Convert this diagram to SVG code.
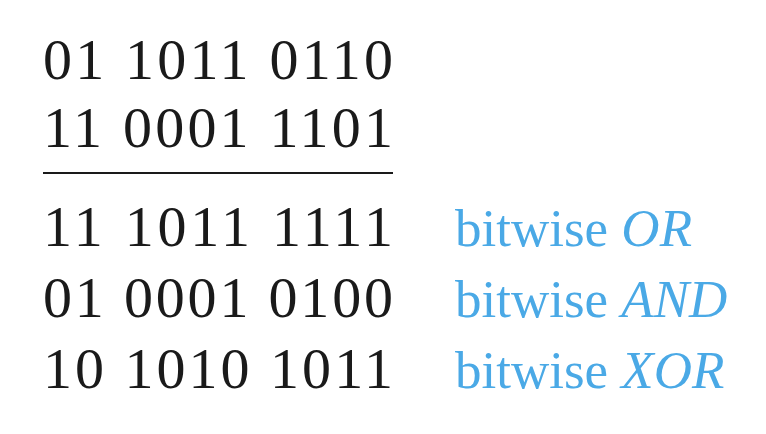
<svg xmlns="http://www.w3.org/2000/svg" width="766" height="434" viewBox="0 0 766 434">
<style>
.d{font-family:"Liberation Serif","Times New Roman",serif;font-size:58px;fill:#1a1a1a}
.b{font-family:"Liberation Serif","Times New Roman",serif;font-size:53px;fill:#4aa9e6}
</style>
<rect width="766" height="434" fill="#ffffff"/>
<g id="operands">
<text class="d" x="43" y="79" textLength="350" lengthAdjust="spacing">01 1011 0110</text>
<text class="d" x="43" y="147" textLength="350" lengthAdjust="spacing">11 0001 1101</text>
</g>
<line x1="43" y1="173" x2="393" y2="173" stroke="#1a1a1a" stroke-width="2"/>
<g id="results">
<text class="d" x="43" y="246" textLength="350" lengthAdjust="spacing">11 1011 1111</text>
<text class="d" x="43" y="317" textLength="350" lengthAdjust="spacing">01 0001 0100</text>
<text class="d" x="43" y="388" textLength="350" lengthAdjust="spacing">10 1010 1011</text>
</g>
<g id="labels">
<text class="b" x="455" y="246">bitwise <tspan font-style="italic">OR</tspan></text>
<text class="b" x="455" y="317">bitwise <tspan font-style="italic">AND</tspan></text>
<text class="b" x="455" y="388">bitwise <tspan font-style="italic">XOR</tspan></text>
</g>
</svg>
